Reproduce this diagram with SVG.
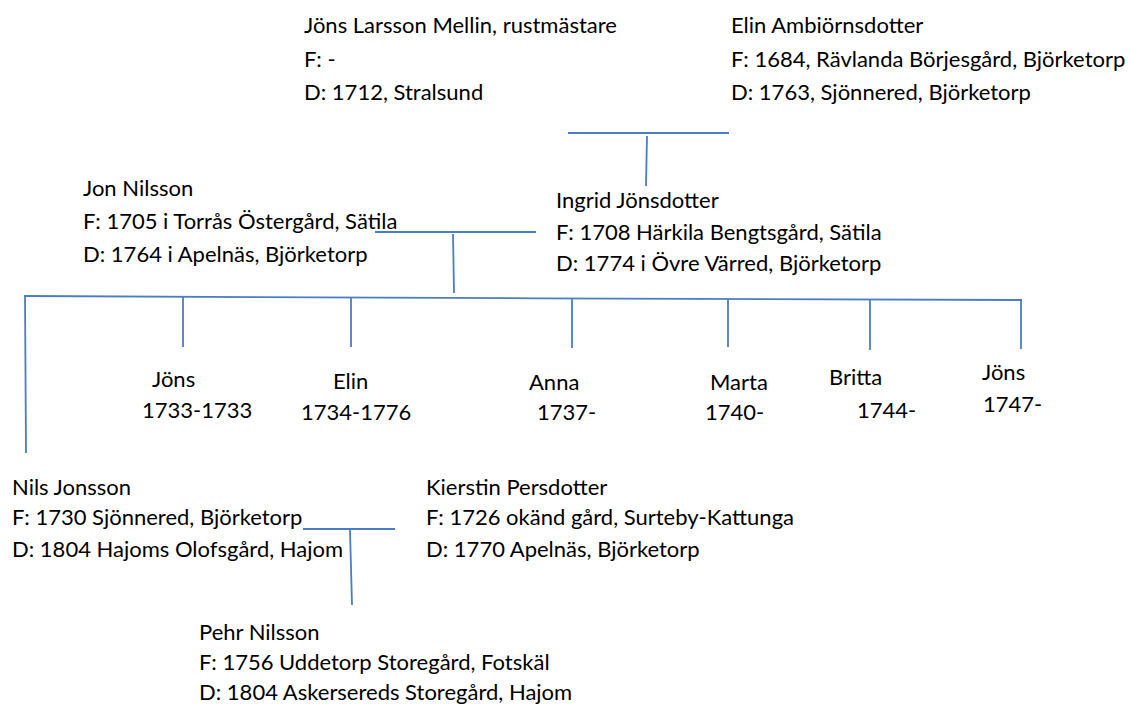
<svg xmlns="http://www.w3.org/2000/svg" width="1129" height="704" viewBox="0 0 1129 704">
<style>
text { font-family: Lato, "Open Sans", "Liberation Sans", sans-serif; font-size: 22px; fill: #000; }
.c line, .c polyline { stroke: #4A7EC2; stroke-width: 1.8; fill: none; }
</style>
<rect width="1129" height="704" fill="#fff"/>
<g class="c" id="connectors">
<line x1="568" y1="133" x2="729" y2="133"/>
<line x1="647" y1="136" x2="646" y2="186"/>
<line x1="375" y1="232" x2="536" y2="232"/>
<line x1="453" y1="234" x2="454" y2="293"/>
<polyline points="24,296 540,298.3 1022,300"/>
<line x1="25" y1="296" x2="26" y2="453"/>
<line x1="183" y1="297" x2="183" y2="347"/>
<line x1="351" y1="297" x2="351" y2="347"/>
<line x1="572" y1="299" x2="572" y2="348"/>
<line x1="728" y1="299" x2="728" y2="347"/>
<line x1="870" y1="299" x2="870" y2="350"/>
<line x1="1021" y1="300" x2="1021" y2="349"/>
<line x1="303" y1="529" x2="395" y2="529"/>
<line x1="350" y1="530" x2="352" y2="605"/>
</g>
<g id="jons-larsson">
<text x="304" y="33">Jöns Larsson Mellin, rustmästare</text>
<text x="304" y="66.5">F: -</text>
<text x="304" y="100">D: 1712, Stralsund</text>
</g>
<g id="elin-ambiornsdotter">
<text x="731" y="33">Elin Ambiörnsdotter</text>
<text x="731" y="66.5">F: 1684, Rävlanda Börjesgård, Björketorp</text>
<text x="731" y="100">D: 1763, Sjönnered, Björketorp</text>
</g>
<g id="jon-nilsson">
<text x="83" y="196">Jon Nilsson</text>
<text x="83" y="228.5">F: 1705 i Torrås Östergård, Sätila</text>
<text x="83" y="262">D: 1764 i Apelnäs, Björketorp</text>
</g>
<g id="ingrid-jonsdotter">
<text x="556" y="208">Ingrid Jönsdotter</text>
<text x="556" y="239.5">F: 1708 Härkila Bengtsgård, Sätila</text>
<text x="556" y="271">D: 1774 i Övre Värred, Björketorp</text>
</g>
<g id="child-jons-1733">
<text x="152" y="387">Jöns</text>
<text x="142" y="418">1733-1733</text>
</g>
<g id="child-elin">
<text x="333" y="389">Elin</text>
<text x="301" y="420">1734-1776</text>
</g>
<g id="child-anna">
<text x="529" y="390">Anna</text>
<text x="537" y="420">1737-</text>
</g>
<g id="child-marta">
<text x="710" y="390">Marta</text>
<text x="705" y="420">1740-</text>
</g>
<g id="child-britta">
<text x="829" y="385">Britta</text>
<text x="857" y="418">1744-</text>
</g>
<g id="child-jons-1747">
<text x="982" y="380">Jöns</text>
<text x="983" y="412">1747-</text>
</g>
<g id="nils-jonsson">
<text x="12" y="495">Nils Jonsson</text>
<text x="12" y="525">F: 1730 Sjönnered, Björketorp</text>
<text x="12" y="557">D: 1804 Hajoms Olofsgård, Hajom</text>
</g>
<g id="kierstin-persdotter">
<text x="426" y="494.5">Kierstin Persdotter</text>
<text x="426" y="525">F: 1726 okänd gård, Surteby-Kattunga</text>
<text x="426" y="557">D: 1770 Apelnäs, Björketorp</text>
</g>
<g id="pehr-nilsson">
<text x="199" y="640">Pehr Nilsson</text>
<text x="199" y="670">F: 1756 Uddetorp Storegård, Fotskäl</text>
<text x="199" y="700">D: 1804 Askersereds Storegård, Hajom</text>
</g>
</svg>
